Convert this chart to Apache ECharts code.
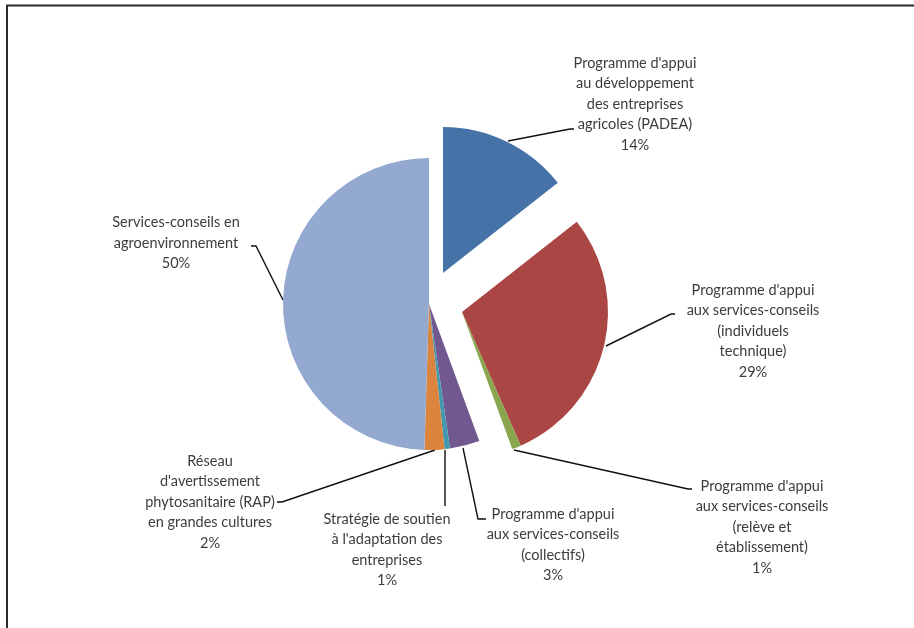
<!DOCTYPE html>
<html><head><meta charset="utf-8">
<script src="https://cdn.jsdelivr.net/npm/echarts@6/dist/echarts.min.js"></script>
<style>html,body{margin:0;padding:0;background:#fff}#c{width:914px;height:628px}</style>
</head><body><div id="c"></div>
<script>
// ---- data ----
const categories = [
  "Programme d'appui\nau développement\ndes entreprises\nagricoles (PADEA)",
  "Programme d'appui\naux services-conseils\n(individuels\ntechnique)",
  "Programme d'appui\naux services-conseils\n(relève et\nétablissement)",
  "Programme d'appui\naux services-conseils\n(collectifs)",
  "Stratégie de soutien\nà l'adaptation des\nentreprises",
  "Réseau\nd'avertissement\nphytosanitaire (RAP)\nen grandes cultures",
  "Services-conseils en\nagroenvironnement"
];
const values = [14.4, 29.0, 1.0, 3.3, 0.6, 2.2, 49.5];

// ---- styles / layout ----
const colors = ['#4572A7', '#AA4643', '#89A54E', '#71588F', '#4198AF', '#DB843D', '#93A9CF'];
const CX = 429, CY = 304, R = 146;
const redShift = [33, 8];     // exploded group (red + green)
const blueShift = [14, -31];  // exploded blue
const groupOf = [1, 2, 2, 0, 0, 0, 0]; // 0 main, 1 blue shifted, 2 red shifted

const labelAnchors = [[635,104],[753,331],[762,527],[553,545],[387,550],[210,502],[176,243]];
const leaderPts = [
  [[508,141],[570,129],[574,129]],
  [[606,346],[671,314],[675,314]],
  [[514,450],[688,489],[692,489]],
  [[463,448],[478,519],[486,519]],
  [[445,450],[445,478],[445,506]],
  [[435,450],[282,502],[277,502]],
  [[283,300],[256,246],[251,246]]
];

function seriesData(group) {
  return categories.map((n, i) => ({
    name: n,
    value: values[i],
    itemStyle: { color: groupOf[i] === group ? colors[i] : 'rgba(0,0,0,0)' }
  }));
}

const chart = echarts.init(document.getElementById('c'), null, { renderer: 'canvas' });
const base = {
  type: 'pie', radius: R, startAngle: 90, clockwise: true,
  avoidLabelOverlap: false, animation: false
};
chart.setOption({
  backgroundColor: '#fff',
  graphic: [{
    type: 'rect', shape: { x: 7, y: 5.5, width: 940, height: 700 },
    style: { fill: 'none', stroke: '#2a2a2a', lineWidth: 2 }, z: 100, silent: true
  }],
  series: [
    Object.assign({}, base, {
      center: [CX, CY],
      data: seriesData(0),
      label: {
        show: true, position: 'outside', color: '#3c3c3c',
        fontFamily: 'Lato', fontSize: 14.5, lineHeight: 20.5, align: 'center',
        formatter: p => p.name + '\n' + Math.round(p.percent) + '%'
      },
      labelLine: { show: true, lineStyle: { color: '#111', width: 1.4 } },
      labelLayout: p => ({
        x: labelAnchors[p.dataIndex][0], y: labelAnchors[p.dataIndex][1],
        align: 'center', verticalAlign: 'middle',
        labelLinePoints: leaderPts[p.dataIndex]
      }),
      z: 2
    }),
    Object.assign({}, base, {
      center: [CX + blueShift[0], CY + blueShift[1]],
      data: seriesData(1), silent: true,
      label: { show: false }, labelLine: { show: false }, z: 1
    }),
    Object.assign({}, base, {
      center: [CX + redShift[0], CY + redShift[1]],
      data: seriesData(2), silent: true,
      label: { show: false }, labelLine: { show: false }, z: 1
    })
  ]
});
</script>
</body></html>
